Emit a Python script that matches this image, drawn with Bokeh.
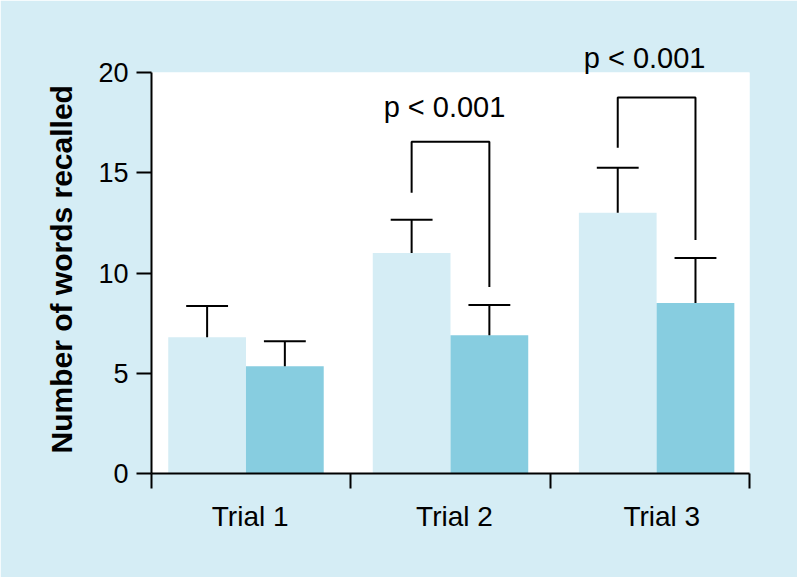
from bokeh.plotting import figure
from bokeh.models import FixedTicker, Label, Range1d, Title, LinearAxis
from bokeh.embed import file_html
from bokeh.resources import INLINE

# ---- data ----
trials = ["Trial 1", "Trial 2", "Trial 3"]
group_a = [6.8, 11.0, 13.0]          # light bars
group_a_err = [1.55, 1.65, 2.25]
group_b = [5.35, 6.9, 8.5]           # dark bars
group_b_err = [1.25, 1.5, 2.25]
y_ticks = [0, 5, 10, 15, 20]
sig_trials = [1, 2]                  # index of trial with a bracket
sig_top = [16.55, 18.75]
sig_left_bottom = [14.0, 16.25]
sig_right_bottom = [9.3, 11.65]
sig_text = ["p < 0.001", "p < 0.001"]
y_label = "Number of words recalled"

# ---- layout constants ----
BG = "#d5edf5"
LIGHT = "#d5edf5"
DARK = "#87cde0"
FONT = "Liberation Sans"
bar_w = 0.39
cap_w = 0.21
group_shift = [-0.026, 0.0, 0.034]
label_shift = [-0.005, 0.02, 0.06]
sig_text_dx = [-6, -12]          # px
frame_w = 598
y_max = 20

n = len(trials)
px_per_unit = frame_w / n
xa = [i + 0.5 + group_shift[i] - bar_w / 2 for i in range(n)]
xb = [i + 0.5 + group_shift[i] + bar_w / 2 for i in range(n)]

p = figure(width=797, height=577, output_backend="svg", toolbar_location=None, tools="",
           x_range=Range1d(0, n), y_range=Range1d(0, y_max))
p.min_border_left = 151
p.min_border_right = 48
p.min_border_top = 72
p.min_border_bottom = 104
p.background_fill_color = "white"
p.border_fill_color = BG
p.outline_line_color = None
p.grid.visible = False

# references to the two default axes, taken before any other axis is added
xaxis = p.below[0]
ya = p.left[0]

# y axis
ya.ticker = FixedTicker(ticks=y_ticks)
ya.major_label_text_font = FONT
ya.major_label_text_font_size = "27px"
ya.major_label_text_color = "black"
ya.major_label_standoff = 8
ya.axis_line_width = 2
ya.axis_line_color = "black"
ya.major_tick_line_width = 2
ya.major_tick_line_color = "black"
ya.major_tick_out = 15
ya.major_tick_in = 0
ya.minor_tick_line_color = None

# x axis: category names centred, boundary ticks between categories
label_pos = [i + 0.5 + label_shift[i] for i in range(n)]
xaxis.ticker = FixedTicker(ticks=label_pos, minor_ticks=list(range(n + 1)))
xaxis.major_label_overrides = {pos: name for pos, name in zip(label_pos, trials)}
xaxis.major_label_text_font = FONT
xaxis.major_label_text_font_size = "28px"
xaxis.major_label_text_color = "black"
xaxis.major_label_standoff = 12
xaxis.axis_line_width = 2
xaxis.axis_line_color = "black"
xaxis.major_tick_line_color = None
xaxis.major_tick_out = 15
xaxis.major_tick_in = 0
xaxis.minor_tick_line_color = "black"
xaxis.minor_tick_line_width = 2
xaxis.minor_tick_out = 15
xaxis.minor_tick_in = 0

p.add_layout(Title(text=y_label, align="left", offset=20, standoff=36,
                   text_font=FONT, text_font_style="bold", text_font_size="30px",
                   text_color="black"), "left")

p.vbar(x=xa, top=group_a, width=bar_w, bottom=0, fill_color=LIGHT, line_color=None)
p.vbar(x=xb, top=group_b, width=bar_w, bottom=0, fill_color=DARK, line_color=None)

# error bars (upper only)
ex = xa + xb
etop = group_a + group_b
eerr = group_a_err + group_b_err
ehi = [t + e for t, e in zip(etop, eerr)]
p.segment(x0=ex, y0=etop, x1=ex, y1=ehi, line_color="black", line_width=2)
p.segment(x0=[x - cap_w / 2 for x in ex], y0=ehi, x1=[x + cap_w / 2 for x in ex], y1=ehi,
          line_color="black", line_width=2)

# significance brackets and their p-value texts
bxs, bys = [], []
top_pos, top_text = [], []
for k, ti in enumerate(sig_trials):
    xl, xr = xa[ti], xb[ti]
    bxs.append([xl, xl, xr, xr])
    bys.append([sig_left_bottom[k], sig_top[k], sig_top[k], sig_right_bottom[k]])
    xc = (xl + xr) / 2 + sig_text_dx[k] / px_per_unit
    if sig_top[k] + 1.2 < y_max - 1:
        p.add_layout(Label(x=xc, y=sig_top[k] + 1.2, text=sig_text[k],
                           text_align="center", text_baseline="alphabetic", y_offset=11,
                           text_font=FONT, text_font_size="29px", text_color="black"))
    else:
        # text sitting on the top edge of the panel goes on an upper, line-less axis
        top_pos.append(xc)
        top_text.append(sig_text[k])
p.multi_line(xs=bxs, ys=bys, line_color="black", line_width=2)

if top_pos:
    up = LinearAxis(ticker=FixedTicker(ticks=top_pos, minor_ticks=[]),
                    major_label_overrides={x: t for x, t in zip(top_pos, top_text)},
                    axis_line_color=None, major_tick_line_color=None,
                    minor_tick_line_color=None, major_tick_in=0, major_tick_out=0,
                    minor_tick_in=0, minor_tick_out=0,
                    major_label_standoff=-1, major_label_text_font=FONT,
                    major_label_text_font_size="29px", major_label_text_color="black")
    p.add_layout(up, "above")

open("out.html", "w").write(file_html(p, INLINE))
